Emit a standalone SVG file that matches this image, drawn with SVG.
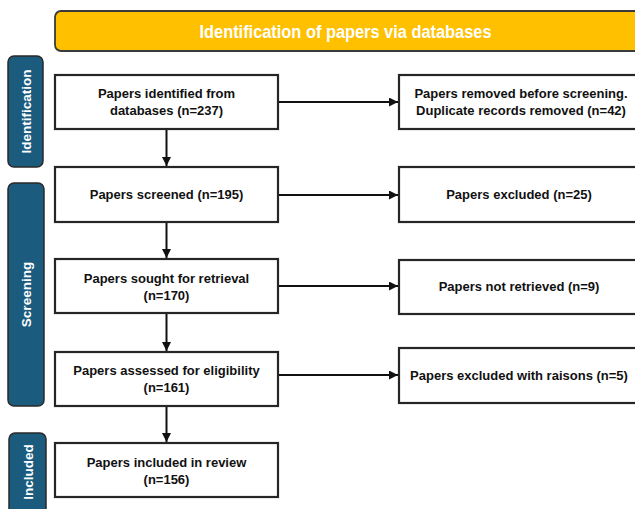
<svg xmlns="http://www.w3.org/2000/svg" width="635" height="509" viewBox="0 0 635 509">
<style>
.bg{fill:#ffffff}
.hdr{fill:#FFC000;stroke:#3a3a3a;stroke-width:1.8}
.side{fill:#1B5B7E;stroke:#2a2a2a;stroke-width:1.5}
.box{fill:#ffffff;stroke:#262626;stroke-width:2.2}
.t{font-family:"Liberation Sans",Arial,sans-serif;font-weight:bold;font-size:13px;fill:#111;text-anchor:middle}
.st{font-family:"Liberation Sans",Arial,sans-serif;font-weight:bold;font-size:13.5px;fill:#ffffff;text-anchor:middle}
.ht{font-family:"Liberation Sans",Arial,sans-serif;font-weight:bold;font-size:19px;fill:#ffffff;text-anchor:middle}
.c{stroke:#111;stroke-width:2;fill:none;marker-end:url(#ah)}
</style>
<defs>
<marker id="ah" viewBox="0 0 10 10" refX="10" refY="5" markerWidth="4.5" markerHeight="4.5" orient="auto" markerUnits="strokeWidth">
<path d="M0,0 L10,5 L0,10 z" fill="#111"/>
</marker>
</defs>
<rect class="bg" x="0" y="0" width="635" height="509"/>
<g id="header">
<rect class="hdr" x="55" y="11" width="600" height="40" rx="6"/>
<text class="ht" x="345.5" y="38" textLength="292" lengthAdjust="spacingAndGlyphs">Identification of papers via databases</text>
</g>
<g id="side-identification">
<rect class="side" x="8" y="56" width="35" height="111" rx="6"/>
<text class="st" transform="translate(30.5,111.5) rotate(-90)">Identification</text>
</g>
<g id="side-screening">
<rect class="side" x="8" y="183" width="36" height="223" rx="6"/>
<text class="st" transform="translate(31,294.5) rotate(-90)">Screening</text>
</g>
<g id="side-included">
<rect class="side" x="9" y="433" width="37" height="90" rx="6"/>
<text class="st" transform="translate(32.5,472) rotate(-90)">Included</text>
</g>
<g id="n1">
<rect class="box" x="55" y="75" width="223" height="54"/>
<text class="t" x="166.5" y="98">Papers identified from</text>
<text class="t" x="166.5" y="115">databases (n=237)</text>
</g>
<g id="n2">
<rect class="box" x="55" y="167" width="223" height="55"/>
<text class="t" x="166.5" y="199">Papers screened (n=195)</text>
</g>
<g id="n3">
<rect class="box" x="55" y="259" width="223" height="54"/>
<text class="t" x="166.5" y="283">Papers sought for retrieval</text>
<text class="t" x="166.5" y="300">(n=170)</text>
</g>
<g id="n4">
<rect class="box" x="55" y="352" width="223" height="54"/>
<text class="t" x="166.5" y="375">Papers assessed for eligibility</text>
<text class="t" x="166.5" y="392">(n=161)</text>
</g>
<g id="n5">
<rect class="box" x="55" y="443" width="223" height="54"/>
<text class="t" x="166.5" y="467">Papers included in review</text>
<text class="t" x="166.5" y="484">(n=156)</text>
</g>
<g id="r1">
<rect class="box" x="399" y="75" width="245" height="54"/>
<text class="t" x="521" y="98">Papers removed before screening.</text>
<text class="t" x="521" y="115">Duplicate records removed (n=42)</text>
</g>
<g id="r2">
<rect class="box" x="399" y="167" width="245" height="55"/>
<text class="t" x="519" y="199">Papers excluded (n=25)</text>
</g>
<g id="r3">
<rect class="box" x="399" y="260" width="245" height="54"/>
<text class="t" x="519" y="291">Papers not retrieved (n=9)</text>
</g>
<g id="r4">
<rect class="box" x="399" y="348" width="245" height="55"/>
<text class="t" x="519" y="380">Papers excluded with raisons (n=5)</text>
</g>
<g id="connectors">
<line class="c" x1="166.5" y1="130" x2="166.5" y2="166"/>
<line class="c" x1="166.5" y1="223" x2="166.5" y2="258"/>
<line class="c" x1="166.5" y1="314" x2="166.5" y2="351"/>
<line class="c" x1="166.5" y1="407" x2="166.5" y2="442"/>
<line class="c" x1="279" y1="102" x2="398" y2="102"/>
<line class="c" x1="279" y1="195" x2="398" y2="195"/>
<line class="c" x1="279" y1="286" x2="398" y2="286"/>
<line class="c" x1="279" y1="375" x2="398" y2="375"/>
</g>
</svg>
